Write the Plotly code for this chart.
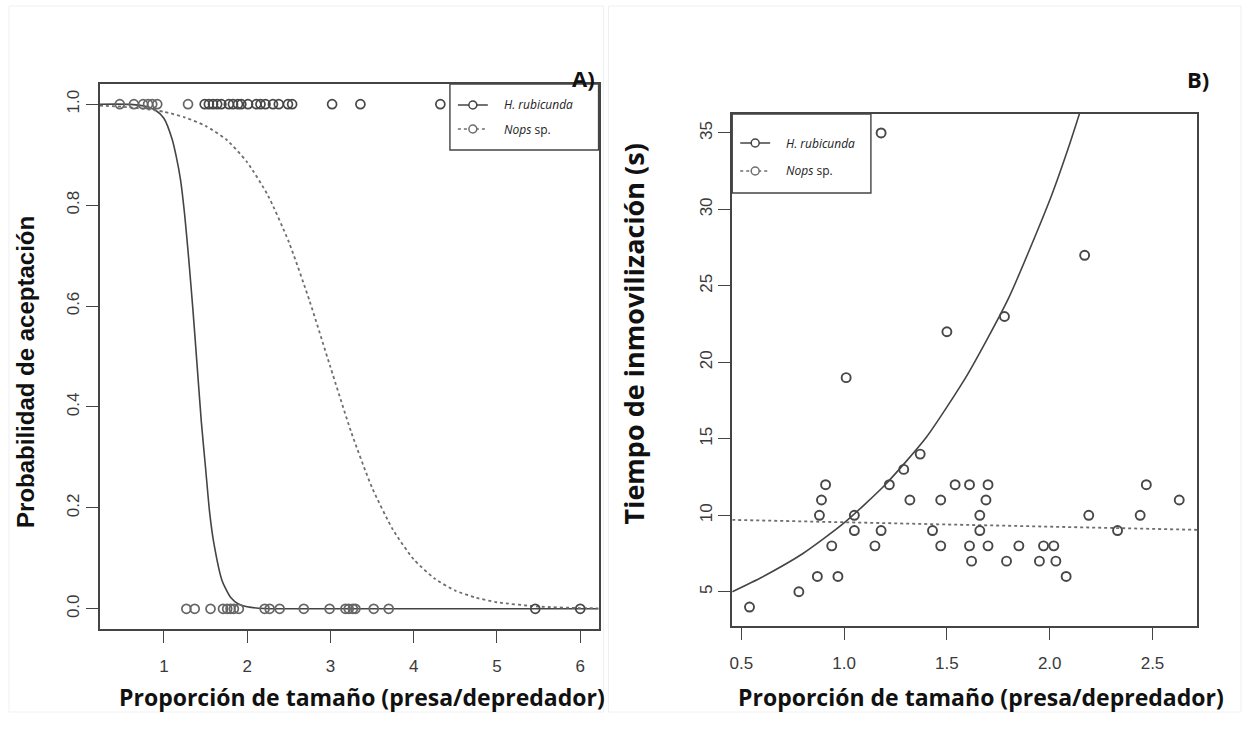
import plotly.graph_objects as go

W, H = 1247, 756

# ---------------- Panel A data (acceptance: 1 = accepted, 0 = rejected) ----------------
a_hr_accept_x = [0.47, 0.64, 0.75, 0.81, 0.86, 0.92, 1.29]
a_nops_accept_x = [1.49, 1.54, 1.59, 1.64, 1.69, 1.78, 1.83, 1.89, 1.93, 2.01, 2.11, 2.16,
                   2.22, 2.31, 2.38, 2.49, 2.54, 3.02, 3.36, 4.32]
a_hr_reject_x = [1.27, 1.37, 1.56, 1.71, 1.76, 1.80, 1.84, 1.90, 2.21, 2.27, 2.39, 2.68,
                 2.99, 3.18, 3.22, 3.27, 3.30, 3.52, 3.70]
a_nops_reject_x = [5.46, 6.00]

# fitted curves
a_hr_curve_x = [0.23, 0.6, 0.8, 0.9, 1.0, 1.1, 1.15, 1.2, 1.25, 1.3, 1.35, 1.4, 1.45, 1.5,
                1.55, 1.6, 1.7, 1.8, 1.9, 2.0, 2.2, 2.5, 6.22]
a_hr_curve_y = [1.0, 0.9997, 0.995, 0.988, 0.972, 0.93, 0.895, 0.85, 0.78, 0.69, 0.59, 0.48,
                0.37, 0.28, 0.19, 0.13, 0.055, 0.023, 0.009, 0.004, 0.0006, 0.0, 0.0]
a_nops_curve_x = [0.23, 0.5, 0.75, 1.0, 1.25, 1.5, 1.75, 2.0, 2.25, 2.5, 2.75, 3.0, 3.25,
                  3.5, 3.75, 4.0, 4.25, 4.5, 4.75, 5.0, 5.5, 6.0, 6.22]
a_nops_curve_y = [0.997, 0.995, 0.991, 0.985, 0.974, 0.957, 0.930, 0.885, 0.819, 0.727, 0.61,
                  0.479, 0.35, 0.24, 0.157, 0.098, 0.06, 0.036, 0.022, 0.013, 0.0045, 0.0015, 0.001]

a_xticks = [1, 2, 3, 4, 5, 6]
a_yticks = [0.0, 0.2, 0.4, 0.6, 0.8, 1.0]
a_yticklabels = ["0.0", "0.2", "0.4", "0.6", "0.8", "1.0"]

# ---------------- Panel B data (immobilisation time, s) ----------------
b_x = [0.54, 0.78, 0.87, 0.97, 0.88, 0.89, 0.91, 0.94, 1.01, 1.05, 1.05, 1.15, 1.18, 1.22,
       1.29, 1.32, 1.37, 1.43, 1.47, 1.47, 1.54, 1.61, 1.61, 1.62, 1.66, 1.66, 1.69, 1.70,
       1.70, 1.79, 1.85, 1.95, 1.97, 2.02, 2.03, 2.08, 2.19, 2.33, 2.44, 2.47, 2.63,
       1.18, 1.50, 1.78, 2.17]
b_y = [4, 5, 6, 6, 10, 11, 12, 8, 19, 10, 9, 8, 9, 12,
       13, 11, 14, 9, 11, 8, 12, 12, 8, 7, 10, 9, 11, 12,
       8, 7, 8, 7, 8, 8, 7, 6, 10, 9, 10, 12, 11,
       35, 22, 23, 27]

b_hr_curve_x = [0.456, 0.6, 0.8, 1.0, 1.2, 1.4, 1.6, 1.8, 2.0, 2.1, 2.2]
b_hr_curve_y = [5.0, 5.95, 7.5, 9.5, 12.0, 15.1, 19.2, 24.2, 30.6, 34.4, 38.6]
b_nops_curve_x = [0.456, 1.0, 1.5, 2.0, 2.717]
b_nops_curve_y = [9.7, 9.55, 9.4, 9.25, 9.05]

b_xticks = [0.5, 1.0, 1.5, 2.0, 2.5]
b_xticklabels = ["0.5", "1.0", "1.5", "2.0", "2.5"]
b_yticks = [5, 10, 15, 20, 25, 30, 35]

# ---------------- styling ----------------
LINE = "#444444"
DOT = "#6e6e6e"
PT_LIGHT = "#666666"
PT_DARK = "#474747"
TICKFONT = dict(family="Liberation Sans, Arial", size=17, color="#3a3a3a")


def px(x):
    return x / W


def py(y):
    return 1 - y / H


# frames (pixels)
A_L, A_R, A_T, A_B = 97, 597, 84, 629
B_L, B_R, B_T, B_B = 731, 1197, 114, 626

fig = go.Figure()


def mk(color, size=9, width=1.7):
    return dict(symbol="circle-open", size=size, color=color, line=dict(width=width, color=color))


# Panel A curves
fig.add_trace(go.Scatter(x=a_hr_curve_x, y=a_hr_curve_y, mode="lines",
                         line=dict(color=LINE, width=1.6, shape="spline", smoothing=0.6),
                         xaxis="x", yaxis="y", showlegend=False, hoverinfo="skip"))
fig.add_trace(go.Scatter(x=a_nops_curve_x, y=a_nops_curve_y, mode="lines",
                         line=dict(color=DOT, width=1.8, dash="dot", shape="spline", smoothing=0.6),
                         xaxis="x", yaxis="y", showlegend=False, hoverinfo="skip"))
# Panel A points
fig.add_trace(go.Scatter(x=a_hr_accept_x, y=[1] * len(a_hr_accept_x), mode="markers", marker=mk(PT_LIGHT),
                         xaxis="x", yaxis="y", showlegend=False, cliponaxis=False))
fig.add_trace(go.Scatter(x=a_nops_accept_x, y=[1] * len(a_nops_accept_x), mode="markers", marker=mk(PT_DARK),
                         xaxis="x", yaxis="y", showlegend=False, cliponaxis=False))
fig.add_trace(go.Scatter(x=a_hr_reject_x, y=[0] * len(a_hr_reject_x), mode="markers", marker=mk(PT_LIGHT),
                         xaxis="x", yaxis="y", showlegend=False, cliponaxis=False))
fig.add_trace(go.Scatter(x=a_nops_reject_x, y=[0] * len(a_nops_reject_x), mode="markers", marker=mk(PT_DARK),
                         xaxis="x", yaxis="y", showlegend=False, cliponaxis=False))

# Panel B curves
fig.add_trace(go.Scatter(x=b_hr_curve_x, y=b_hr_curve_y, mode="lines",
                         line=dict(color=LINE, width=1.6, shape="spline", smoothing=0.6),
                         xaxis="x2", yaxis="y2", showlegend=False, hoverinfo="skip"))
fig.add_trace(go.Scatter(x=b_nops_curve_x, y=b_nops_curve_y, mode="lines", line=dict(color=DOT, width=1.8, dash="dot"),
                         xaxis="x2", yaxis="y2", showlegend=False, hoverinfo="skip"))
fig.add_trace(go.Scatter(x=b_x, y=b_y, mode="markers", marker=mk(PT_DARK, size=9, width=1.9),
                         xaxis="x2", yaxis="y2", showlegend=False))

axis_common = dict(showline=True, mirror=True, linecolor=LINE, linewidth=1.6, ticks="outside", ticklen=12,
                   tickcolor=LINE, tickwidth=1.4, showgrid=False, zeroline=False, tickfont=TICKFONT)

fig.update_layout(
    width=W, height=H, margin=dict(l=0, r=0, t=0, b=0),
    paper_bgcolor="white", plot_bgcolor="white",
    xaxis=dict(domain=[px(A_L), px(A_R)], range=[0.23, 6.22], tickvals=a_xticks, anchor="y",
               ticklabelstandoff=9, **axis_common),
    yaxis=dict(domain=[py(A_B), py(A_T)], range=[-0.04, 1.04], tickvals=a_yticks, ticktext=a_yticklabels,
               tickangle=-90, anchor="x", **axis_common),
    xaxis2=dict(domain=[px(B_L), px(B_R)], range=[0.456, 2.717], tickvals=b_xticks, ticktext=b_xticklabels,
                anchor="y2", ticklabelstandoff=9, **axis_common),
    yaxis2=dict(domain=[py(B_B), py(B_T)], range=[2.76, 36.24], tickvals=b_yticks, tickangle=-90,
                anchor="x2", **axis_common),
)

shapes = []
annotations = []

# faint borders of the two original panels
shapes.append(dict(type="rect", xref="paper", yref="paper", x0=px(6), x1=px(602), y0=py(712), y1=py(6),
                   line=dict(color="#f0f0f0", width=1), layer="below"))
shapes.append(dict(type="rect", xref="paper", yref="paper", x0=px(607), x1=px(1241), y0=py(712), y1=py(6),
                   line=dict(color="#f0f0f0", width=1), layer="below"))


def legend(x0, x1, y0, y1, rows):
    shapes.append(dict(type="rect", xref="paper", yref="paper", x0=px(x0), x1=px(x1), y0=py(y1), y1=py(y0),
                       line=dict(color=LINE, width=1.4), fillcolor="white"))
    for (yy, dash, color, label) in rows:
        shapes.append(dict(type="line", xref="paper", yref="paper", x0=px(x0 + 8), x1=px(x0 + 38), y0=py(yy), y1=py(yy),
                           line=dict(color=color, width=1.5, dash=dash)))
        shapes.append(dict(type="circle", xref="paper", yref="paper", x0=px(x0 + 19), x1=px(x0 + 27),
                           y0=py(yy + 4), y1=py(yy - 4), line=dict(color=color, width=1.5), fillcolor="white"))
        annotations.append(dict(xref="paper", yref="paper", x=px(x0 + 52), y=py(yy), text=label, showarrow=False,
                                xanchor="left", yanchor="middle",
                                font=dict(family="Open Sans, Noto Sans", size=12, color="#222")))


legend(448, A_R, A_T, 150, [(105, "solid", LINE, "<i>H. rubicunda</i>"), (129, "dot", DOT, "<i>Nops</i> sp.")])
legend(B_L, 870, B_T, 193, [(143, "solid", LINE, "<i>H. rubicunda</i>"), (171, "dot", DOT, "<i>Nops</i> sp.")])

TITLE_FONT = dict(family="Open Sans, Noto Sans", size=23, color="#111")
annotations += [
    dict(xref="paper", yref="paper", x=px(360), y=py(697), text="<b>Proporción de tamaño (presa/depredador)</b>",
         showarrow=False, font=TITLE_FONT, xanchor="center", yanchor="middle"),
    dict(xref="paper", yref="paper", x=px(980), y=py(697), text="<b>Proporción de tamaño (presa/depredador)</b>",
         showarrow=False, font=TITLE_FONT, xanchor="center", yanchor="middle"),
    dict(xref="paper", yref="paper", x=px(22), y=py(372), text="<b>Probabilidad de aceptación</b>", textangle=-90,
         showarrow=False, font=dict(family="Liberation Sans, Arial", size=24, color="#111"),
         xanchor="center", yanchor="middle"),
    dict(xref="paper", yref="paper", x=px(632), y=py(334), text="<b>Tiempo de inmovilización (s)</b>", textangle=-90,
         showarrow=False, font=dict(family="Open Sans, Noto Sans", size=27, color="#111"),
         xanchor="center", yanchor="middle"),
    dict(xref="paper", yref="paper", x=px(582), y=py(78), text="<b>A)</b>", showarrow=False,
         font=dict(family="Open Sans, Noto Sans", size=22, color="#111"), xanchor="center", yanchor="middle"),
    dict(xref="paper", yref="paper", x=px(1198), y=py(79), text="<b>B)</b>", showarrow=False,
         font=dict(family="Open Sans, Noto Sans", size=22, color="#111"), xanchor="center", yanchor="middle"),
]

fig.update_layout(shapes=shapes, annotations=annotations)
fig.write_html("out.html")
